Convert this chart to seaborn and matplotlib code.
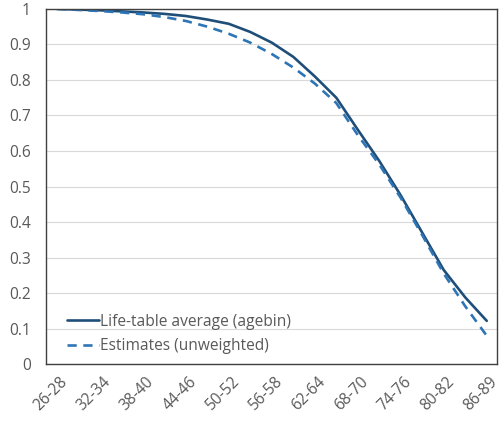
import matplotlib
matplotlib.use("Agg")
import matplotlib.pyplot as plt
import matplotlib.transforms as mtransforms
import numpy as np
import pandas as pd
import seaborn as sns

# age bins (3-year bins)
agebins = ['26-28', '29-31', '32-34', '35-37', '38-40', '41-43', '44-46',
           '47-49', '50-52', '53-55', '56-58', '59-61', '62-64', '65-67',
           '68-70', '71-73', '74-76', '77-79', '80-82', '83-85', '86-89']

life_table = [1.0, 0.998, 0.996, 0.993, 0.99, 0.986, 0.98, 0.97, 0.958, 0.935,
              0.905, 0.865, 0.81, 0.75, 0.66, 0.572, 0.475, 0.37, 0.265, 0.188, 0.122]
estimates = [1.0, 0.997, 0.994, 0.99, 0.985, 0.977, 0.966, 0.95, 0.93, 0.905,
             0.873, 0.835, 0.79, 0.735, 0.645, 0.562, 0.468, 0.363, 0.255, 0.163, 0.08]

df = pd.DataFrame({
    'pos': np.arange(len(agebins)),
    'agebin': agebins,
    'Life-table average (agebin)': life_table,
    'Estimates (unweighted)': estimates,
})

sns.set_style('white')
plt.rcParams['font.family'] = ['Open Sans', 'DejaVu Sans']
grey = '#595959'
fs = 11.2

fig, ax = plt.subplots(figsize=(5.01, 4.23), dpi=100)
fig.subplots_adjust(left=0.092, right=0.993, top=0.979, bottom=0.139)

sns.lineplot(data=df, x='pos', y='Life-table average (agebin)', ax=ax,
             color='#1F4E79', linewidth=1.9, label='Life-table average (agebin)')
sns.lineplot(data=df, x='pos', y='Estimates (unweighted)', ax=ax,
             color='#2E75B6', linewidth=1.9, label='Estimates (unweighted)')
ax.lines[1].set_dashes([3.5, 2.5])

ax.set_xlim(-0.5, len(agebins) - 0.5)
ax.set_ylim(0, 1)
ax.set_yticks(np.round(np.arange(0, 1.01, 0.1), 1))
ax.set_yticklabels(['0'] + [f'{v:.1f}' for v in np.arange(0.1, 0.95, 0.1)] + ['1'])
ax.set_xticks(df['pos'][::2])
ax.set_xticklabels(df['agebin'][::2], rotation=45, ha='right', rotation_mode='anchor')
ax.tick_params(axis='both', length=0, labelsize=fs, colors=grey)
ax.tick_params(axis='y', pad=11)
ax.tick_params(axis='x', pad=7)
# nudge rotated labels a little right, like Excel does
shift = mtransforms.ScaledTranslation(2 / 72, 0, fig.dpi_scale_trans)
for lbl in ax.get_xticklabels():
    lbl.set_transform(lbl.get_transform() + shift)

ax.grid(axis='y', color='#D9D9D9', linewidth=0.8)
ax.set_axisbelow(True)
for s in ax.spines.values():
    s.set_color('#404040')
    s.set_linewidth(1.0)

ax.set_xlabel('')
ax.set_ylabel('')
leg = ax.legend(loc='lower left', frameon=False, fontsize=fs, handlelength=2.0,
                handletextpad=0.1, labelspacing=0.55, borderaxespad=0.25,
                bbox_to_anchor=(0.025, 0.0))
for t in leg.get_texts():
    t.set_color(grey)

fig.savefig('out.png', dpi=100)
